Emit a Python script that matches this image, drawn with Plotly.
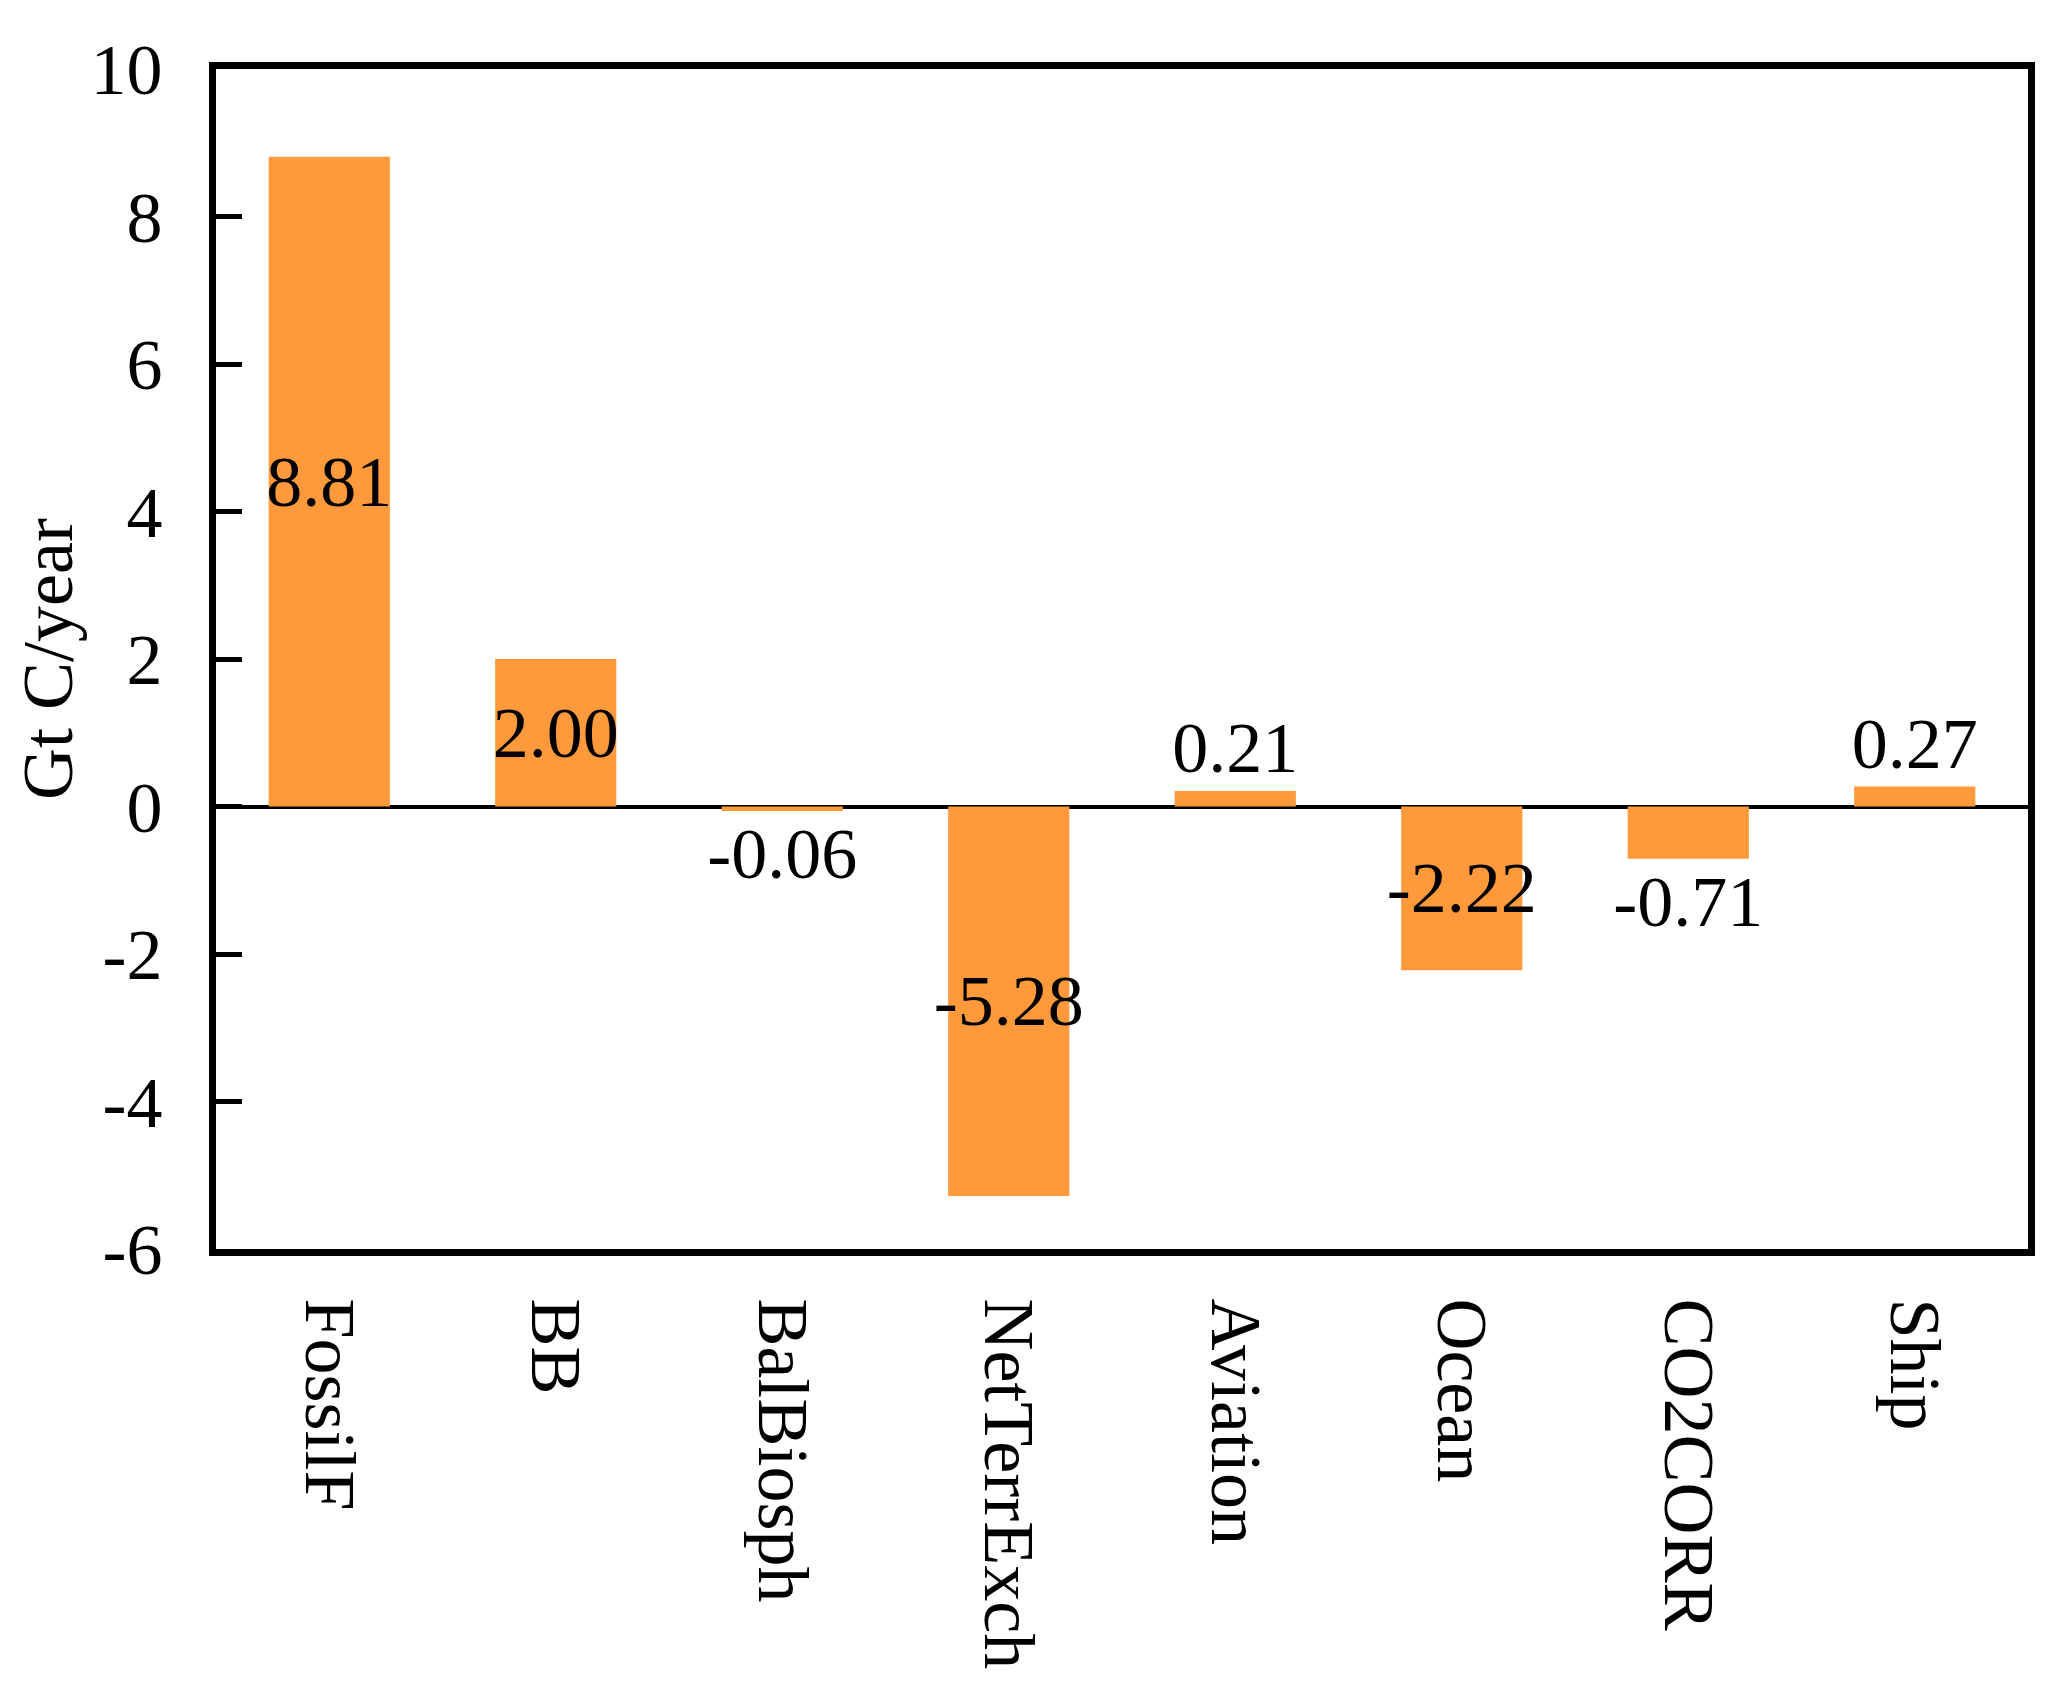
import plotly.graph_objects as go

categories = ["FossilF", "BB", "BalBiosph", "NetTerrExch", "Aviation", "Ocean", "CO2CORR", "Ship"]
values = [8.81, 2.00, -0.06, -5.28, 0.21, -2.22, -0.71, 0.27]
label_text = ["8.81", "2.00", "-0.06", "-5.28", "0.21", "-2.22", "-0.71", "0.27"]
label_pos = ["inside", "inside", "outside", "inside", "outside", "inside", "outside", "outside"]
y_ticks = [-6, -4, -2, 0, 2, 4, 6, 8, 10]

FONT = "Liberation Serif"
FS = 72

fig = go.Figure(go.Bar(
    x=categories,
    y=values,
    width=0.535,
    marker=dict(color="#FE9A3C", line=dict(width=0)),
    text=label_text,
    textposition=label_pos,
    textangle=0,
    insidetextanchor="middle",
    constraintext="none",
    textfont=dict(family=FONT, size=FS, color="black"),
    insidetextfont=dict(family=FONT, size=FS, color="black"),
    outsidetextfont=dict(family=FONT, size=FS, color="black"),
    cliponaxis=False,
))

fig.update_layout(
    width=2060,
    height=1687,
    margin=dict(l=208, r=40, t=61, b=446),
    paper_bgcolor="white",
    plot_bgcolor="white",
    showlegend=False,
    font=dict(family=FONT, size=FS, color="black"),
)

fig.update_xaxes(
    range=[-0.5, 7.5],
    showline=True, linecolor="black", linewidth=7, mirror=True,
    ticks="", tickangle=90,
    ticklabelstandoff=28,
    tickfont=dict(family=FONT, size=FS, color="black"),
    showgrid=False, zeroline=False,
)

fig.update_yaxes(
    range=[-6, 10],
    tickvals=y_ticks,
    ticktext=[str(v) for v in y_ticks],
    showline=True, linecolor="black", linewidth=7, mirror=True,
    ticks="inside", ticklen=26, tickwidth=5, tickcolor="black",
    ticklabelstandoff=32,
    tickfont=dict(family=FONT, size=FS, color="black"),
    showgrid=False,
    zeroline=True, zerolinecolor="black", zerolinewidth=4,
    title=dict(text="Gt C/year", font=dict(family=FONT, size=FS, color="black"), standoff=6),
)

fig.write_html("out.html")
